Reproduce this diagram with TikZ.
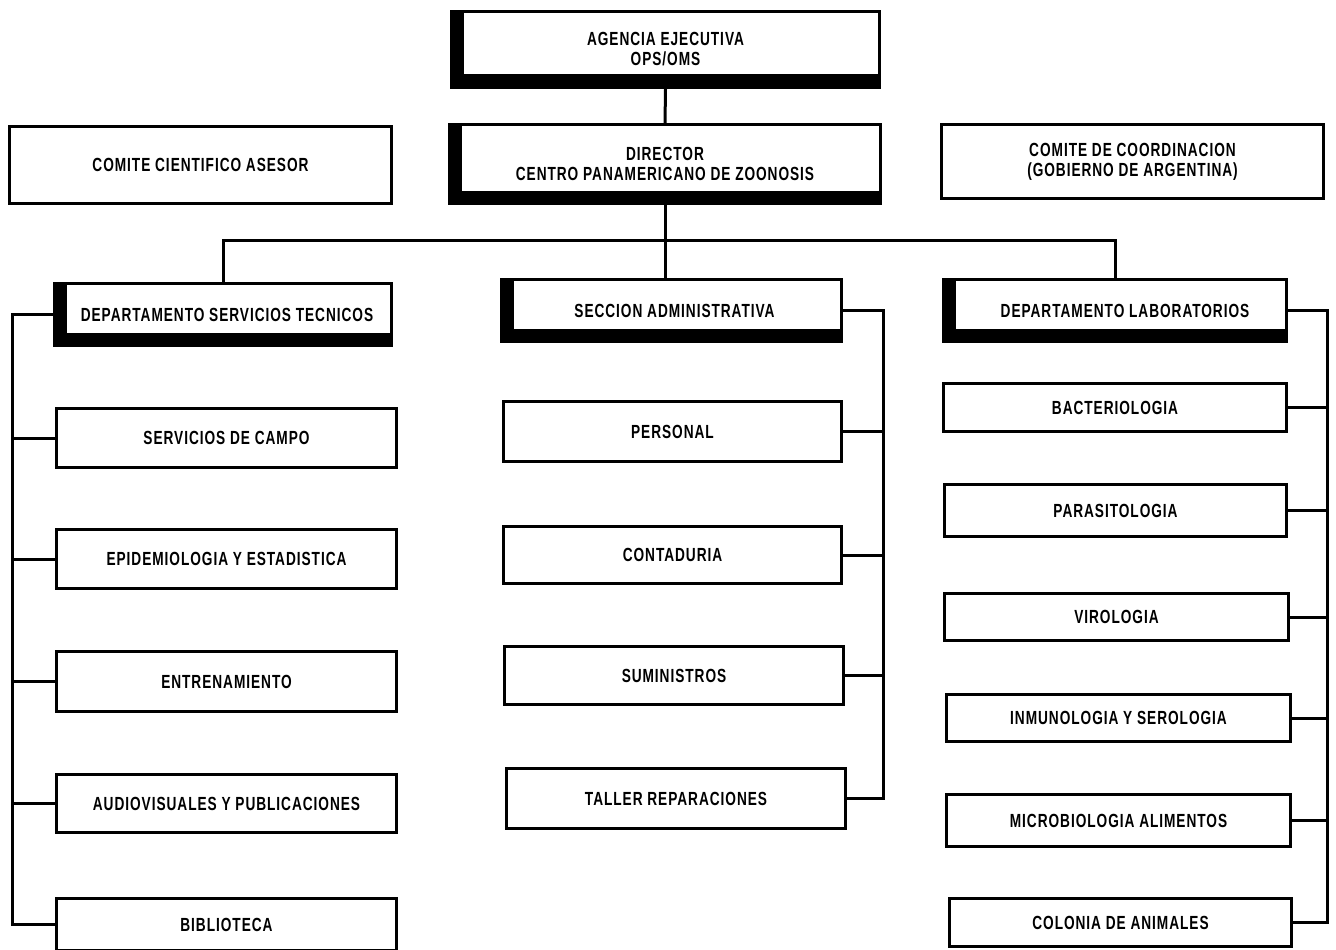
\documentclass[tikz,border=0pt]{standalone}
\usepackage{fontspec}
\newfontfamily\orgfont{Liberation Sans}[FakeStretch=0.72,LetterSpace=5]
\begin{document}
\begin{tikzpicture}[x=1pt,y=-1pt,
  line width=3pt, line join=miter,
  box/.style={draw, line width=2.8pt, rectangle, inner sep=0pt, align=center,
    font=\orgfont\bfseries\fontsize{19}{20}\selectfont},
  shadowbox/.style={box, path picture={
    \fill[black] (path picture bounding box.south west) rectangle ([xshift=12pt]path picture bounding box.north west);
    \fill[black] (path picture bounding box.south west) rectangle ([yshift=13pt]path picture bounding box.south east);}},
  conn/.style={draw, line width=3pt}]
\useasboundingbox (0,0) rectangle (1336,950);
\fill[white] (0,0) rectangle (1336,950);
\clip (0,0) rectangle (1336,950);

% top level
\node[shadowbox, minimum width=428pt, minimum height=76pt] (agencia) at (665.5,49.5) {AGENCIA EJECUTIVA\\OPS/OMS};
\node[shadowbox, minimum width=431pt, minimum height=79pt] (director) at (665,164) {DIRECTOR\\CENTRO PANAMERICANO DE ZOONOSIS};
\node[box, minimum width=382pt, minimum height=77pt] (cca) at (200.5,165) {COMITE CIENTIFICO ASESOR};
\node[box, minimum width=382pt, minimum height=74pt] (ccoord) at (1132.5,161.5) {COMITE DE COORDINACION\\(GOBIERNO DE ARGENTINA)};

% departments
\node[shadowbox, minimum width=337pt, minimum height=62pt] (dst) at (223,314.5) {\hspace*{8pt}DEPARTAMENTO SERVICIOS TECNICOS};
\node[shadowbox, minimum width=340pt, minimum height=62pt] (secc) at (671.5,310.5) {\hspace*{6pt}SECCION ADMINISTRATIVA};
\node[shadowbox, minimum width=343pt, minimum height=62pt] (dlab) at (1115,310.5) {\hspace*{20pt}DEPARTAMENTO LABORATORIOS};

% left column
\node[box, minimum width=340pt, minimum height=59pt] (campo) at (226.5,438) {SERVICIOS DE CAMPO};
\node[box, minimum width=340pt, minimum height=59pt] (epid) at (226.5,559) {EPIDEMIOLOGIA Y ESTADISTICA};
\node[box, minimum width=340pt, minimum height=60pt] (entr) at (226.5,681.5) {ENTRENAMIENTO};
\node[box, minimum width=340pt, minimum height=58pt] (audio) at (226.5,803.5) {AUDIOVISUALES Y PUBLICACIONES};
\node[box, minimum width=340pt, minimum height=52pt] (biblio) at (226.5,924.5) {BIBLIOTECA};

% middle column
\node[box, minimum width=338pt, minimum height=60pt] (personal) at (672.5,431.5) {PERSONAL};
\node[box, minimum width=338pt, minimum height=57pt] (contad) at (672.5,555) {CONTADURIA};
\node[box, minimum width=339pt, minimum height=58pt] (sumin) at (674,675.5) {SUMINISTROS};
\node[box, minimum width=339pt, minimum height=60pt] (taller) at (676,798.5) {TALLER REPARACIONES};

% right column
\node[box, minimum width=343pt, minimum height=48pt] (bact) at (1115,407.5) {BACTERIOLOGIA};
\node[box, minimum width=342pt, minimum height=52pt] (paras) at (1115.5,510.5) {PARASITOLOGIA};
\node[box, minimum width=344pt, minimum height=47pt] (viro) at (1116.5,617) {VIROLOGIA};
\node[box, minimum width=344pt, minimum height=47pt] (inmu) at (1118.5,718) {INMUNOLOGIA Y SEROLOGIA};
\node[box, minimum width=344pt, minimum height=52pt] (micro) at (1118.5,820.5) {MICROBIOLOGIA ALIMENTOS};
\node[box, minimum width=342pt, minimum height=48pt] (colon) at (1120.5,922.5) {COLONIA DE ANIMALES};

% bus coordinates
\coordinate (topbus) at (668,240);
\coordinate (lbus) at (12,0);
\coordinate (mbus) at (883,0);
\coordinate (rbus) at (1327,0);

% top connectors
\draw[conn] (agencia.south) -- (director.north);
\draw[conn] (director.south) -- (director.south |- secc.north);
\draw[conn] (dst.north) -- (dst.north |- topbus) -- (dlab.north |- topbus) -- (dlab.north);

% left bus
\draw[conn] (dst.west) -- (dst.west -| lbus) -- (biblio.west -| lbus) -- (biblio.west);
\foreach \n in {campo,epid,entr,audio}
  \draw[conn] (\n.west) -- (\n.west -| lbus);

% middle bus
\draw[conn] (secc.east) -- (secc.east -| mbus) -- (taller.east -| mbus) -- (taller.east);
\foreach \n in {personal,contad,sumin}
  \draw[conn] (\n.east) -- (\n.east -| mbus);

% right bus
\draw[conn] (dlab.east) -- (dlab.east -| rbus) -- (colon.east -| rbus) -- (colon.east);
\foreach \n in {bact,paras,viro,inmu,micro}
  \draw[conn] (\n.east) -- (\n.east -| rbus);
\end{tikzpicture}
\end{document}
